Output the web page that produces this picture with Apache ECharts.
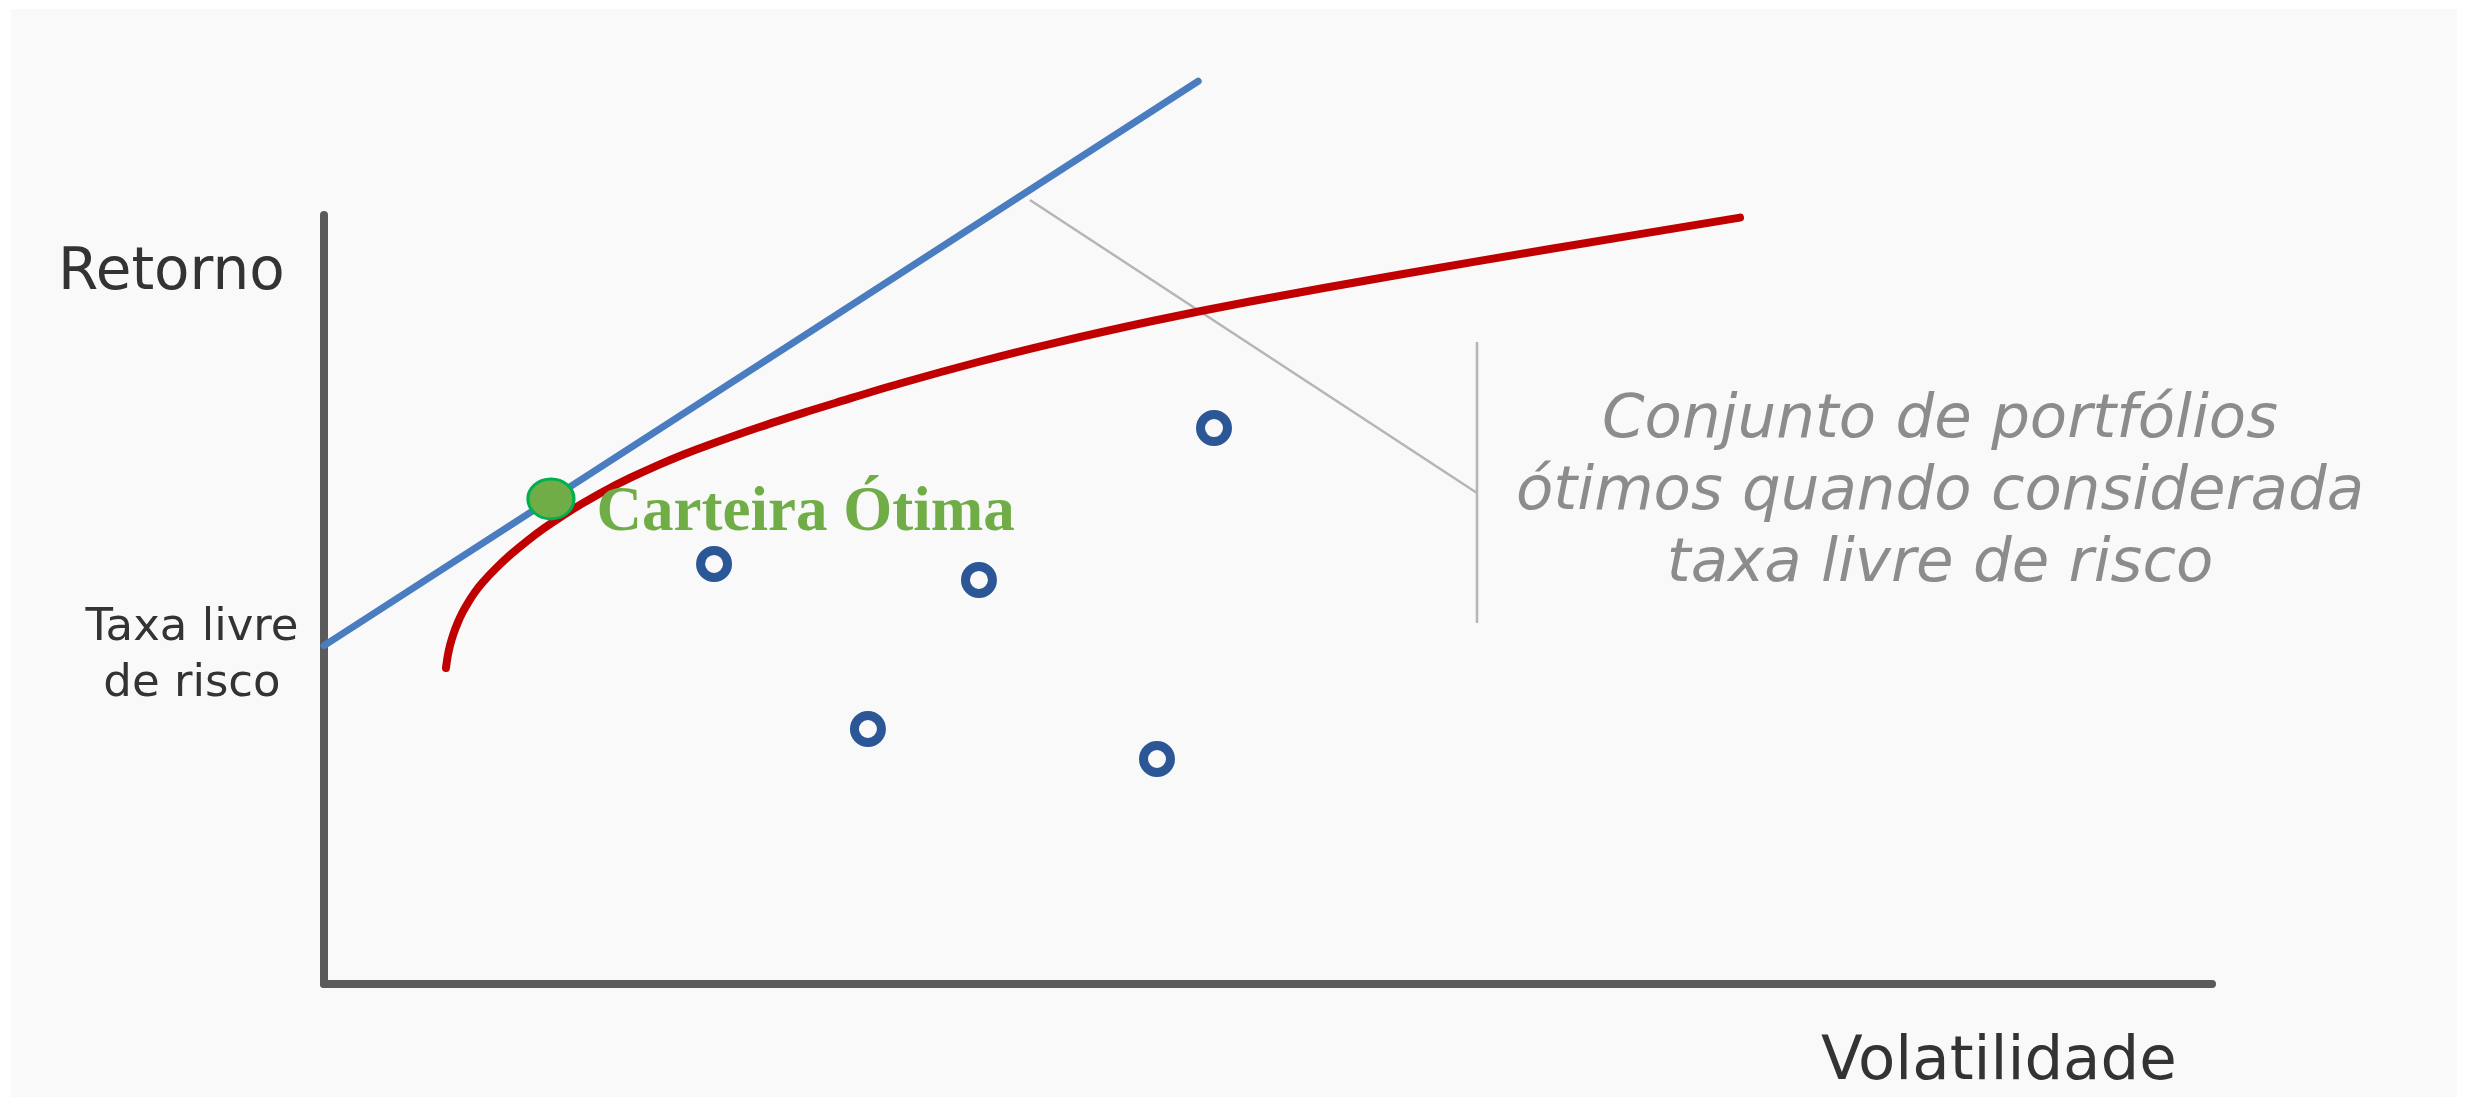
<!DOCTYPE html>
<html>
<head>
<meta charset="utf-8">
<script src="https://cdn.jsdelivr.net/npm/echarts@6/dist/echarts.min.js"></script>
<style>
  html, body { margin: 0; padding: 0; background: #ffffff; width: 2465px; height: 1097px; overflow: hidden; }
  #chart { position: absolute; left: 11px; top: 9px; width: 2446px; height: 1088px; }
</style>
</head>
<body>
<div id="chart"></div>
<script>
// ---- data (axis units: 0..100 on both axes, arbitrary) ----
var capitalMarketLine = [[0, 44.0], [46.3, 117.4]];
var efficientFrontier = [
  [6.46, 41.09], [6.55, 42.60], [6.68, 44.08], [6.86, 45.54], [7.08, 46.96],
  [7.34, 48.34], [7.65, 49.67], [7.99, 50.94], [8.37, 52.14], [9.11, 54.06],
  [9.90, 55.87], [10.75, 57.60], [11.65, 59.26], [12.61, 60.85], [13.67, 62.46],
  [14.88, 64.15], [16.21, 65.81], [17.64, 67.42], [19.01, 68.83], [20.34, 70.06],
  [23.04, 72.39], [25.74, 74.54], [27.12, 75.59], [30.51, 78.09], [34.75, 80.95],
  [38.45, 83.22], [43.75, 86.15], [49.05, 88.75], [57.01, 92.26], [64.94, 95.58],
  [75.00, 99.66]
];
var portfolios = [[20.66, 54.62], [34.69, 52.54], [47.14, 72.30], [28.81, 33.16], [44.12, 29.26]];
var optimalPortfolio = [[12.02, 63.07]];
var pointerLine = [[37.39, 101.95], [61.07, 63.85]];
var bracketLine = [[61.07, 83.49], [61.07, 46.94]];

var labelOptimal = 'Carteira Ótima';
var labelY = 'Retorno';
var labelX = 'Volatilidade';
var labelRf = 'Taxa livre\nde risco';
var annotationText = 'Conjunto de portfólios\nótimos quando considerada\ntaxa livre de risco';

var chart = echarts.init(document.getElementById('chart'));
var sans = '"DejaVu Sans", sans-serif';

chart.setOption({
  backgroundColor: '#f9f9f9',
  animation: false,
  grid: { left: 313, right: 245, top: 206, bottom: 113 },
  xAxis: {
    type: 'value', min: 0, max: 100,
    axisLine: { show: true, lineStyle: { color: '#5a5a5a', width: 8 } },
    axisTick: { show: false }, axisLabel: { show: false }, splitLine: { show: false }
  },
  yAxis: {
    type: 'value', min: 0, max: 100,
    axisLine: { show: true, lineStyle: { color: '#5a5a5a', width: 8 } },
    axisTick: { show: false }, axisLabel: { show: false }, splitLine: { show: false }
  },
  series: [
    {
      type: 'line', data: pointerLine, clip: false, symbol: 'none', silent: true,
      lineStyle: { color: '#b5b5b5', width: 2.5 }, z: 1
    },
    {
      type: 'line', data: bracketLine, clip: false, symbol: 'none', silent: true,
      lineStyle: { color: '#b5b5b5', width: 2.5 }, z: 1
    },
    {
      type: 'line', data: efficientFrontier, smooth: 0.3, clip: false, symbol: 'none',
      lineStyle: { color: '#c00000', width: 8, cap: 'round', join: 'round' }, z: 2
    },
    {
      type: 'line', data: capitalMarketLine, clip: false, symbol: 'none',
      lineStyle: { color: '#4a7cc0', width: 7, cap: 'round' }, z: 3
    },
    {
      type: 'scatter', data: portfolios, symbol: 'circle', symbolSize: 27,
      itemStyle: { color: 'rgba(0,0,0,0)', borderColor: '#2b5797', borderWidth: 9, opacity: 1 }, z: 4
    },
    {
      type: 'scatter', data: optimalPortfolio, symbol: 'circle', symbolSize: [46, 40],
      itemStyle: { color: '#70ad47', borderColor: '#00b050', borderWidth: 3, opacity: 1 },
      label: {
        show: true, position: 'right', distance: 21, offset: [0, 15],
        formatter: labelOptimal,
        fontFamily: '"Liberation Serif", "Times New Roman", serif',
        fontWeight: 'bold', fontSize: 63, color: '#70ad47'
      },
      z: 5
    }
  ],
  graphic: [
    {
      type: 'text', left: 47, top: 236,
      style: { text: labelY, font: '58px ' + sans, fill: '#333333' }
    },
    {
      type: 'text', left: 1810, top: 1024,
      style: { text: labelX, font: '61px ' + sans, fill: '#333333' }
    },
    {
      type: 'text', x: 181, y: 647,
      style: { text: labelRf, font: '45px ' + sans, fill: '#333333', lineHeight: 56, align: 'center', verticalAlign: 'middle' }
    },
    {
      type: 'text', x: 1929, y: 484,
      style: { text: annotationText, font: 'italic 61px ' + sans, fill: '#8c8c8c', lineHeight: 72, align: 'center', verticalAlign: 'middle' }
    }
  ]
});
</script>
</body>
</html>
